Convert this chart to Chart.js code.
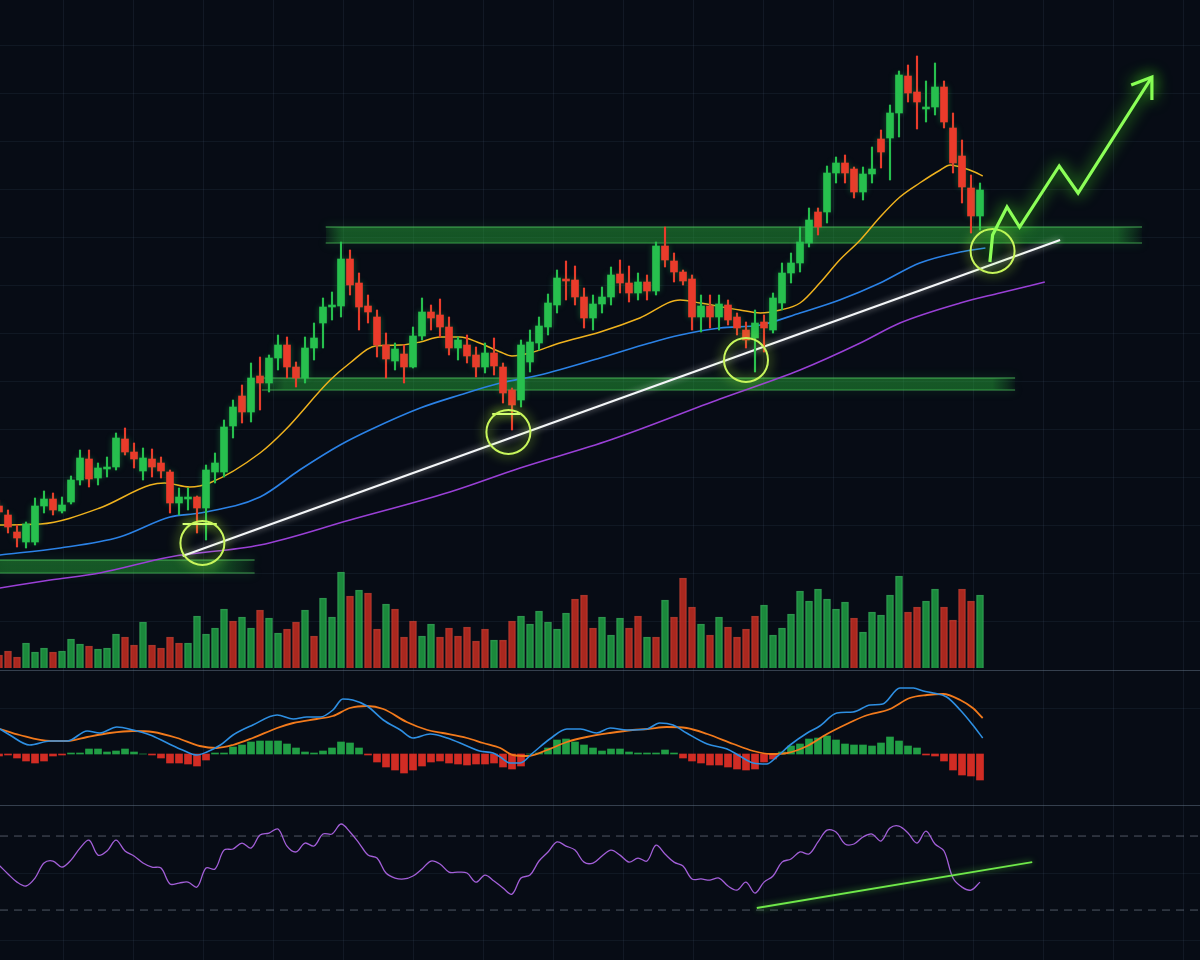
<!DOCTYPE html>
<html>
<head>
<meta charset="utf-8">
<script src="https://cdn.jsdelivr.net/npm/chart.js@4.4.1/dist/chart.umd.min.js"></script>
<style>
  html, body { margin: 0; padding: 0; background: #070c15; }
  canvas { display: block; }
</style>
</head>
<body>
<canvas id="c" width="1200" height="960"></canvas>
<script>
// ---------------- DATA ----------------
const candleOpen = [
  94,85,68,58,58,94,101,89,98,120,
  141,122,131,133,161,148,129,141,137,128,
  97,101,103,92,128,128,174,204,188,224,
  217,242,255,233,222,252,277,293,294,341,
  317,294,283,255,239,246,233,264,288,285,
  273,252,255,245,233,247,233,210,200,238,
  257,273,295,321,320,303,282,296,303,326,
  317,307,318,309,354,339,328,321,283,294,
  283,295,283,270,262,278,270,297,327,337,
  357,388,388,427,437,431,408,426,461,462,
  487,524,508,491,493,513,472,444,412,384
];
const candleClose = [
  88,73,62,76,94,101,90,95,120,142,
  121,132,133,162,148,141,142,133,129,97,
  103,102,92,130,137,173,193,188,222,217,
  242,255,233,222,252,262,293,294,341,315,
  293,288,255,241,251,233,264,288,282,273,
  252,260,244,233,247,234,207,195,255,258,
  274,297,322,319,303,282,296,303,325,317,
  307,318,309,354,340,328,319,283,294,283,
  296,280,272,260,277,272,302,327,337,358,
  380,373,427,437,427,408,426,431,448,487,
  525,507,498,493,513,478,437,413,384,410
];
const candleHigh = [
  100,90,75,78,102,109,107,103,124,150,
  150,137,143,167,172,157,152,151,143,130,
  112,112,104,135,147,180,200,215,237,243,
  245,265,263,238,263,277,302,308,358,350,
  327,305,290,267,257,255,273,302,295,301,
  283,263,265,253,257,262,237,212,260,270,
  283,306,330,339,334,312,305,313,333,340,
  334,327,325,358,373,347,330,325,305,305,
  305,300,287,278,290,285,307,337,347,373,
  392,392,434,443,445,433,433,453,470,495,
  529,535,544,519,537,519,487,460,425,417
];
const candleLow = [
  85,67,53,52,55,87,85,87,96,115,
  113,115,123,130,145,132,120,123,122,87,
  85,90,67,60,117,123,162,177,178,190,
  208,230,222,213,217,240,252,280,283,305,
  270,277,243,222,230,217,232,260,270,263,
  245,240,237,223,227,225,197,170,193,228,
  250,265,287,300,295,272,270,287,295,307,
  298,300,300,305,333,318,315,270,268,272,
  270,275,265,252,228,248,267,290,317,328,
  353,365,377,417,417,402,400,417,432,420,
  463,498,471,478,485,472,427,397,367,370
];
const volume = [
  13,17,11,25,16,20,16,17,29,24,
  22,19,20,34,31,23,46,23,20,31,
  25,25,52,34,40,59,47,51,40,58,
  50,35,39,46,58,32,70,51,96,72,
  78,75,39,64,59,31,47,32,44,31,
  40,32,41,27,39,28,28,47,52,44,
  57,46,39,55,69,73,40,51,33,50,
  40,52,31,31,68,51,90,61,44,33,
  51,41,31,39,52,63,33,40,54,77,
  67,79,69,59,66,50,36,56,53,73,
  92,56,61,67,79,61,48,79,67,73
];
const volumeUp = [
  0,0,0,1,1,1,0,1,1,1,
  0,1,1,1,0,0,1,0,0,0,
  0,1,1,1,1,1,0,1,1,0,
  1,1,0,0,1,0,1,1,1,0,
  1,0,0,1,0,0,0,1,1,0,
  0,0,0,0,0,1,0,0,1,1,
  1,1,1,1,0,0,0,1,1,1,
  0,0,1,0,1,0,0,0,1,0,
  1,0,0,0,0,1,1,1,1,1,
  1,1,1,1,1,0,1,1,1,1,
  1,0,0,1,1,0,0,0,0,1
];
const macdHist = [
  -2,-1,-4,-7,-9,-7,-2,-1,1,1,
  5,5,2,3,5,2,0,-1,-4,-9,
  -9,-10,-12,-6,1,1,7,9,12,13,
  13,13,10,6,2,1,3,6,12,11,
  6,-1,-8,-13,-16,-19,-16,-12,-8,-7,
  -9,-10,-11,-10,-10,-9,-13,-15,-12,0,
  1,6,14,15,12,9,6,3,5,5,
  2,1,1,1,4,1,-4,-7,-9,-11,
  -11,-13,-15,-16,-15,-8,-5,2,8,10,
  15,16,18,14,10,9,9,8,11,17,
  13,8,6,-1,-2,-7,-16,-21,-22,-26
];
const rsi = [
  54.3,49.5,45.1,43.0,47.3,55.4,56.5,53.2,57.0,63.5,
  67.8,59.7,61.9,67.8,61.9,59.2,55.4,53.2,52.7,44.1,
  44.6,45.1,42.4,52.7,52.2,62.4,63.0,66.2,63.5,70.5,
  71.6,73.8,64.6,61.4,66.2,64.6,71.1,71.1,76.5,72.2,
  66.2,59.7,58.1,50.0,47.3,46.8,48.4,52.2,56.5,54.9,
  50.5,50.5,50.0,45.1,48.9,45.7,41.9,38.6,47.3,48.9,
  56.5,61.4,66.8,64.6,62.4,55.9,55.4,59.2,62.4,59.7,
  55.9,58.1,56.5,65.1,60.3,55.9,53.8,46.8,46.8,46.2,
  47.3,43.0,40.8,45.1,39.2,45.1,48.4,55.9,57.6,61.4,
  60.3,66.8,73.2,72.2,65.7,65.7,69.5,71.1,67.3,74.3,
  75.4,71.6,66.2,72.7,65.7,61.9,47.3,42.4,40.8,45.1
];
const rsiLevels = [70, 30];

// moving averages (sampled at bar positions)
const maFastX = [0.1,4.6,11.2,16.8,18.4,21.2,23.4,29,31.8,36.8,39,41.8,44.6,46.8,49,51.2,53.4,55.7,57,59,62.3,66.8,71.2,75.7,77.9,82.3,84.6,86.8,89,91.2,93.4,95.7,97.9,100.1,102.3,104.6,105.7,106.8,108.4,109.3];
const maFast  = [75,76,92,115,117,113,117,147,170,220,237,254,255,258,263,263,257,248,244,247,257,268,282,300,297,290,287,290,297,317,340,360,383,403,417,430,435,433,428,424];
const maMidX  = [0.1,6.8,13.4,19,22.3,29,33.4,37.9,41.2,46.8,51.2,55.7,60.1,66.8,72.3,75.7,80.1,84.6,89,93.4,97.9,102.3,106.8,109.6];
const maMid   = [45,52,63,83,87,103,130,155,170,192,205,217,225,242,257,265,272,275,287,300,317,337,348,352];
const maSlowX = [0.1,5.7,11.2,19,29,39,50.1,57.9,67.9,80.1,89,95.7,100.1,106.8,111.2,116.2];
const maSlow  = [12,20,27,43,55,80,108,132,160,201,230,257,277,297,307,318];

// MACD lines
const macdX = [0.1,1.2,3.4,5.7,7.6,9.8,11.2,13.1,14.9,16.8,18.7,20.4,22,23.1,24.6,26,28.2,30.9,32.7,34.2,35.7,37.1,38.2,39.3,40.9,42.7,44.6,46,47.9,49.8,52,53.4,54.9,55.7,56.8,57.9,59.3,61.2,63.1,64.6,66.4,67.9,69.8,72,73.4,74.9,76.4,78.7,80.9,82.3,83.8,85.3,86.4,87.9,89.8,91.2,93.1,94.9,96.8,98.2,100.1,101.6,102.7,103.8,105.3,106.8,108.2,109.3];
const macdLine = [25,19,9,13,13,23,21,27,24,19,11,4,-1,2,9,19,29,39,35,37,37,44,55,54,48,34,24,16,20,16,8,3,1,-3,-9,-9,1,15,25,25,21,26,24,25,31,29,21,10,5,-2,-9,-10,-3,9,21,28,41,42,49,50,66,66,63,61,57,44,29,16];
const signalX = [0.1,2.3,5.7,7.6,9.8,12.3,14.9,17.1,19.8,22.3,24.2,26,28.2,30.9,32.7,35.3,37.1,39,40.9,42.7,45.3,47.6,49.3,52,53.8,55.7,57.1,58.7,60.9,63.1,65.3,67.9,70.4,72.1,74.2,76.4,78.7,81.6,83.8,85.7,87.6,89.8,92,94.2,96.2,99,101.2,103.1,104.9,106.8,108.2,109.3];
const signalLine = [25,19,13,13,17,21,23,22,16,8,6,9,16,26,31,35,38,46,48,45,32,24,21,16,11,6,-1,-2,4,12,17,21,24,25,27,26,20,10,3,0,1,8,20,30,38,45,56,59,60,54,46,36];

// annotations (in bar-index / price units)
const zoneStart  = [0, 29.2, 36.3];
const zoneEnd    = [28.4, 112.9, 127];
const zoneTop    = [40, 222, 373];
const zoneBottom = [27, 210, 357];
const trendX = [20.4, 117.9];
const trendY = [44, 360];
const circleX = [22.6, 56.6, 83, 110.4];
const circleY = [57, 168, 240, 349];
const capStart = [20.4, 54.8];
const capEnd   = [24.2, 57.9];
const capLevel = [76, 186];
const arrowX = [110.1, 110.4, 112, 113.4, 117.8, 119.9, 128.1];
const arrowY = [338, 365, 393, 373, 434, 407, 523];
const headX  = [125.8, 128.1, 128.1];
const headY  = [515, 523, 500];
const rsiTrendX = [84.2, 114.8];
const rsiTrendY = [31.1, 55.9];

// ---------------- LAYOUT / STYLE ----------------
const SLOT = 9, X0 = -1, W = 1200;
const X_MIN = (0 - X0) / SLOT, X_MAX = (W - X0) / SLOT;
const UP = '#27c04e', DOWN = '#ea3b2b';
const idx = candleOpen.map((_, i) => i);
const isUp = i => i !== undefined && candleClose[i] >= candleOpen[i];
const pts = (xs, ys) => xs.map((x, i) => ({ x, y: ys[i] }));

const ZONE_RGB = '38,160,56';
const zoneFade = [[0, 0.16], [0.03, 0.03], [0.02, 0.03]];
function zoneFill(z) {
  return ctx => {
    const ch = ctx.chart, sx = ch.scales && ch.scales.x;
    if (!sx || !ch.chartArea) return `rgba(${ZONE_RGB},0.48)`;
    const x1 = sx.getPixelForValue(zoneStart[z]), x2 = sx.getPixelForValue(zoneEnd[z]);
    const g = ch.ctx.createLinearGradient(x1, 0, x2, 0);
    const [fl, fr] = zoneFade[z];
    g.addColorStop(0, fl > 0 ? `rgba(${ZONE_RGB},0.1)` : `rgba(${ZONE_RGB},0.48)`);
    g.addColorStop(Math.max(fl, 0.001), `rgba(${ZONE_RGB},0.48)`);
    g.addColorStop(1 - fr, `rgba(${ZONE_RGB},0.48)`);
    g.addColorStop(1, `rgba(${ZONE_RGB},0.04)`);
    return g;
  };
}

const datasets = [];
// support / resistance zones
zoneTop.forEach((t, z) => {
  datasets.push({ type: 'line', label: 'zone' + z, xAxisID: 'x', yAxisID: 'yp',
    data: [{ x: zoneStart[z], y: t }, { x: zoneEnd[z], y: t }],
    borderColor: 'rgba(90,220,105,0.5)', borderWidth: 1.5, pointRadius: 0,
    fill: '+1', backgroundColor: zoneFill(z), order: 20,
    glow: 'rgba(70,230,90,0.8)', glowBlur: 10 });
  datasets.push({ type: 'line', label: 'zoneB' + z, xAxisID: 'x', yAxisID: 'yp',
    data: [{ x: zoneStart[z], y: zoneBottom[z] }, { x: zoneEnd[z], y: zoneBottom[z] }],
    borderColor: 'rgba(90,220,105,0.45)', borderWidth: 1.5, pointRadius: 0,
    fill: false, order: 20, glow: 'rgba(70,230,90,0.8)', glowBlur: 10 });
});

// volume
datasets.push({ type: 'bar', label: 'Volume', xAxisID: 'x', yAxisID: 'yv', grouped: false,
  barThickness: 7, data: idx.map(i => ({ x: i, y: volume[i] })),
  backgroundColor: c => volumeUp[c.dataIndex] ? 'rgba(32,165,70,0.82)' : 'rgba(205,46,34,0.82)',
  borderColor: c => volumeUp[c.dataIndex] ? 'rgba(70,215,110,0.65)' : 'rgba(240,80,60,0.65)',
  borderWidth: { top: 1, left: 1, right: 1, bottom: 0 }, order: 12 });

// MACD histogram
datasets.push({ type: 'bar', label: 'MACD hist', xAxisID: 'x', yAxisID: 'ym', grouped: false,
  barThickness: 7, data: idx.map(i => ({ x: i, y: macdHist[i] })),
  backgroundColor: c => (macdHist[c.dataIndex] >= 0) ? 'rgba(38,185,78,0.85)' : 'rgba(232,48,38,0.9)',
  borderWidth: 0, order: 12 });

// moving averages
datasets.push({ type: 'line', label: 'MA slow', xAxisID: 'x', yAxisID: 'yp', data: pts(maSlowX, maSlow),
  borderColor: '#9a40d6', borderWidth: 1.5, pointRadius: 0, cubicInterpolationMode: 'monotone', order: 9 });
datasets.push({ type: 'line', label: 'MA mid', xAxisID: 'x', yAxisID: 'yp', data: pts(maMidX, maMid),
  borderColor: '#2b82e6', borderWidth: 1.6, pointRadius: 0, cubicInterpolationMode: 'monotone', order: 8 });
datasets.push({ type: 'line', label: 'MA fast', xAxisID: 'x', yAxisID: 'yp', data: pts(maFastX, maFast),
  borderColor: '#efb21e', borderWidth: 1.5, pointRadius: 0, cubicInterpolationMode: 'monotone', order: 7 });

// trendline
datasets.push({ type: 'line', label: 'Trend', xAxisID: 'x', yAxisID: 'yp', data: pts(trendX, trendY),
  borderColor: '#f4f6f8', borderWidth: 2.2, pointRadius: 0, order: 6,
  glow: 'rgba(255,255,255,0.6)', glowBlur: 6 });

// candles
datasets.push({ type: 'bar', label: 'wick', xAxisID: 'x', yAxisID: 'yp', grouped: false,
  barThickness: 1.5, data: idx.map(i => ({ x: i, y: [candleLow[i], candleHigh[i]] })),
  backgroundColor: c => isUp(c.dataIndex) ? UP : DOWN, borderWidth: 0, order: 5 });
datasets.push({ type: 'bar', label: 'body', xAxisID: 'x', yAxisID: 'yp', grouped: false,
  barThickness: 7, minBarLength: 2, data: idx.map(i => ({ x: i, y: [candleOpen[i], candleClose[i]] })),
  backgroundColor: c => isUp(c.dataIndex) ? UP : DOWN, borderWidth: 0, order: 4,
  glow: 'rgba(40,200,90,0.35)', glowBlur: 6 });

// circles and caps
datasets.push({ type: 'line', label: 'touch', xAxisID: 'x', yAxisID: 'yp', data: pts(circleX, circleY),
  showLine: false, pointRadius: 22, pointStyle: 'circle', pointBorderWidth: 2,
  pointBackgroundColor: 'rgba(0,0,0,0)', pointBorderColor: '#c8f65c', order: 2,
  glow: '#b4ff3a', glowBlur: 12 });
capLevel.forEach((lv, k) => {
  datasets.push({ type: 'line', label: 'cap' + k, xAxisID: 'x', yAxisID: 'yp',
    data: [{ x: capStart[k], y: lv }, { x: capEnd[k], y: lv }],
    borderColor: '#d6ff7a', borderWidth: 2, pointRadius: 0, order: 2, glow: '#b4ff3a', glowBlur: 10 });
});

// projection arrow
datasets.push({ type: 'line', label: 'arrow', xAxisID: 'x', yAxisID: 'yp', data: pts(arrowX, arrowY),
  borderColor: '#8cff58', borderWidth: 3.2, pointRadius: 0, tension: 0, borderJoinStyle: 'miter',
  order: 1, glow: '#4dff22', glowBlur: 16 });
datasets.push({ type: 'line', label: 'arrowhead', xAxisID: 'x', yAxisID: 'yp', data: pts(headX, headY),
  borderColor: '#8cff58', borderWidth: 3.2, pointRadius: 0, tension: 0, borderJoinStyle: 'miter',
  order: 1, glow: '#4dff22', glowBlur: 16 });

// MACD lines
datasets.push({ type: 'line', label: 'Signal', xAxisID: 'x', yAxisID: 'ym', data: pts(signalX, signalLine),
  borderColor: '#f27a1c', borderWidth: 1.8, pointRadius: 0, cubicInterpolationMode: 'monotone', order: 10 });
datasets.push({ type: 'line', label: 'MACD', xAxisID: 'x', yAxisID: 'ym', data: pts(macdX, macdLine),
  borderColor: '#2e8fe2', borderWidth: 1.6, pointRadius: 0, cubicInterpolationMode: 'monotone', order: 9 });

// RSI
rsiLevels.forEach((lv, k) => {
  datasets.push({ type: 'line', label: 'rsiLevel' + k, xAxisID: 'x', yAxisID: 'yr',
    data: [{ x: X_MIN, y: lv }, { x: X_MAX, y: lv }],
    borderColor: 'rgba(140,150,165,0.55)', borderWidth: 1, borderDash: [8, 6], pointRadius: 0, order: 15 });
});
datasets.push({ type: 'line', label: 'RSI', xAxisID: 'x', yAxisID: 'yr', data: idx.map(i => ({ x: i, y: rsi[i] })),
  borderColor: '#a35fd8', borderWidth: 1.3, pointRadius: 0, tension: 0.35, order: 9 });
datasets.push({ type: 'line', label: 'RSI trend', xAxisID: 'x', yAxisID: 'yr', data: pts(rsiTrendX, rsiTrendY),
  borderColor: '#6fe84a', borderWidth: 2, pointRadius: 0, order: 8, glow: 'rgba(100,255,70,0.6)', glowBlur: 6 });

// glow plugin
const glowPlugin = {
  id: 'glow',
  beforeDatasetDraw(chart, args) {
    const ds = chart.data.datasets[args.index];
    if (ds.glow) { chart.ctx.save(); chart.ctx.shadowColor = ds.glow; chart.ctx.shadowBlur = ds.glowBlur || 10; }
  },
  afterDatasetDraw(chart, args) {
    const ds = chart.data.datasets[args.index];
    if (ds.glow) chart.ctx.restore();
  }
};

const SEPARATORS = [670, 805];
const hiddenY = (min, max) => ({ type: 'linear', display: false, min, max, offset: false });

new Chart(document.getElementById('c'), {
  type: 'bar',
  data: { datasets },
  plugins: [glowPlugin],
  options: {
    responsive: false,
    devicePixelRatio: 1,
    animation: false,
    events: [],
    layout: { padding: 0, autoPadding: false },
    plugins: { legend: { display: false }, tooltip: { enabled: false }, title: { display: false } },
    scales: {
      x: { type: 'linear', display: false, min: X_MIN, max: X_MAX, offset: false },
      xg: { type: 'linear', position: 'bottom', min: 0, max: 1200, offset: false,
        ticks: { display: false }, border: { display: false },
        grid: { color: 'rgba(75,95,120,0.17)', drawTicks: false, lineWidth: 1 },
        afterBuildTicks: s => { const t = []; for (let p = 28; p < 1200; p += 70) t.push({ value: p }); s.ticks = t; } },
      yg: { type: 'linear', position: 'left', min: 0, max: 960, reverse: true, offset: false,
        ticks: { display: false }, border: { display: false },
        grid: { drawTicks: false, lineWidth: 1,
          color: c => (c.tick && SEPARATORS.includes(c.tick.value)) ? 'rgba(100,115,135,0.5)' : 'rgba(75,95,120,0.15)' },
        afterBuildTicks: s => { s.ticks = [45, 93, 141, 189, 237, 285, 333, 381, 429, 477, 525, 573, 621, 670, 708, 805, 873, 940].map(v => ({ value: v })); } },
      yp: hiddenY(-360, 600),
      yv: hiddenY(-292, 668),
      ym: hiddenY(-206, 754),
      yr: hiddenY(3.0, 521.9)
    }
  }
});
</script>
</body>
</html>
